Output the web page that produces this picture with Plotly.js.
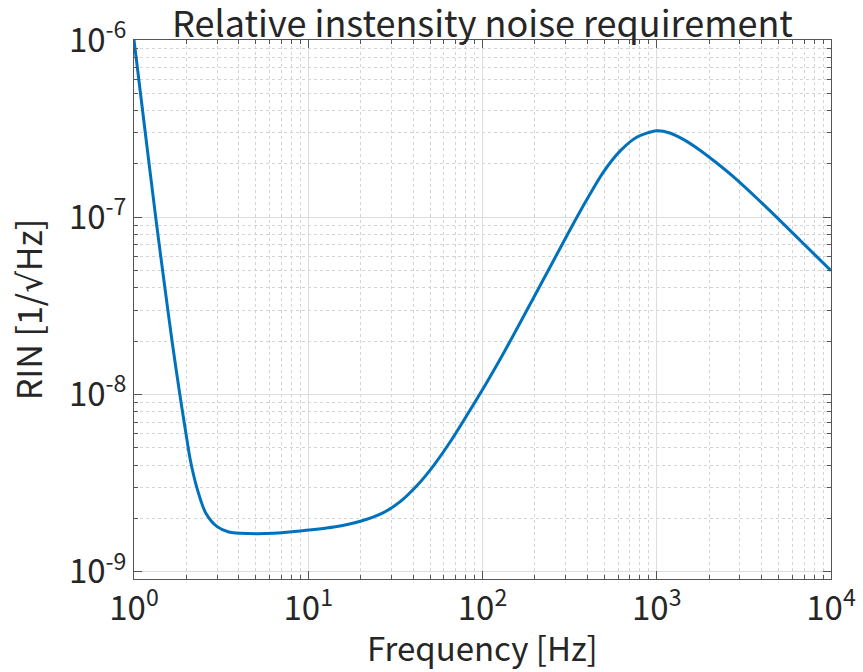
<!DOCTYPE html>
<html>
<head>
<meta charset="utf-8">
<script src="https://cdn.plot.ly/plotly-3.0.1.min.js"></script>
<style>html,body{margin:0;padding:0;background:#fff}#chart{width:863px;height:672px}</style>
</head>
<body>
<div id="chart"></div>
<script>
// Frequency [Hz]
const frequency = [1.0, 1.14, 1.34, 1.51, 1.66, 1.83, 1.98, 2.11, 2.31, 2.58, 3.0, 3.5, 4.56, 6.3, 9.0, 14.0, 19.9, 27.0, 33.7, 42.1, 52.4, 65.3, 81.5, 106, 132, 205, 318, 397, 494, 617, 767, 1000, 1190, 1420, 1770, 2200, 2740, 4290, 6620, 10000];
// RIN [1/sqrt(Hz)]
const rin = [1.0e-6, 3.47e-7, 9.55e-8, 3.89e-8, 1.95e-8, 1.01e-8, 6.17e-9, 4.22e-9, 2.92e-9, 2.15e-9, 1.80e-9, 1.68e-9, 1.645e-9, 1.65e-9, 1.70e-9, 1.79e-9, 1.93e-9, 2.16e-9, 2.49e-9, 3.07e-9, 3.98e-9, 5.42e-9, 7.67e-9, 1.175e-8, 1.71e-8, 3.80e-8, 8.51e-8, 1.26e-7, 1.80e-7, 2.37e-7, 2.83e-7, 3.08e-7, 2.99e-7, 2.75e-7, 2.39e-7, 2.03e-7, 1.70e-7, 1.13e-7, 7.45e-8, 5.0e-8];

const xTickVals = [1, 10, 100, 1000, 10000];
const xTickText = ['10<sup>0</sup>', '10<sup>1</sup>', '10<sup>2</sup>', '10<sup>3</sup>', '10<sup>4</sup>'];
const yTickVals = [1e-9, 1e-8, 1e-7, 1e-6];
const yTickText = ['10<sup>-9</sup>', '10<sup>-8</sup>', '10<sup>-7</sup>', '10<sup>-6</sup>'];

const FONT = '"Noto Sans CJK JP", "Noto Sans", sans-serif';
const TXT = '#262626';
const AX = '#555555';

function axisBase() {
  return {
    type: 'log',
    showline: true, linecolor: AX, linewidth: 1, mirror: 'ticks',
    ticks: 'inside', ticklen: 8, tickcolor: AX, tickwidth: 1,
    showgrid: true, gridcolor: '#dedede', gridwidth: 1,
    zeroline: false,
    tickfont: {family: FONT, size: 33, color: TXT},
    minor: {dtick: 'D1', ticks: 'inside', ticklen: 4, tickcolor: AX, tickwidth: 1,
            showgrid: true, gridcolor: '#d4d4d4', gridwidth: 1, griddash: 'dot'}
  };
}

const xaxis = Object.assign(axisBase(), {
  range: [0, 4], tickmode: 'array', tickvals: xTickVals, ticktext: xTickText
});
const yaxis = Object.assign(axisBase(), {
  range: [-9.04, -6], tickmode: 'array', tickvals: yTickVals, ticktext: yTickText,
  title: {text: 'RIN [1/<span style="font-family:DejaVu Sans">√</span>Hz]', font: {family: FONT, size: 34, color: TXT}, standoff: 16}
});

const layout = {
  width: 863, height: 672,
  margin: {l: 133.5, r: 32, t: 40, b: 93},
  paper_bgcolor: '#ffffff', plot_bgcolor: '#ffffff',
  showlegend: false,
  title: {text: 'Relative instensity noise requirement', font: {family: FONT, size: 36, color: TXT},
          xref: 'paper', x: 0.5, xanchor: 'center', yref: 'container', y: 0.964, yanchor: 'middle'},
  xaxis: xaxis, yaxis: yaxis,
  annotations: [{
    text: 'Frequency [Hz]', showarrow: false,
    xref: 'paper', yref: 'paper', x: 0.5, y: -0.127, xanchor: 'center', yanchor: 'middle',
    font: {family: FONT, size: 33, color: TXT}
  }]
};

const trace = {
  x: frequency, y: rin, type: 'scatter', mode: 'lines',
  line: {color: '#0072BD', width: 3, shape: 'spline', smoothing: 0.8},
  hoverinfo: 'skip', cliponaxis: true
};

Plotly.newPlot('chart', [trace], layout, {staticPlot: true});
</script>
</body>
</html>
